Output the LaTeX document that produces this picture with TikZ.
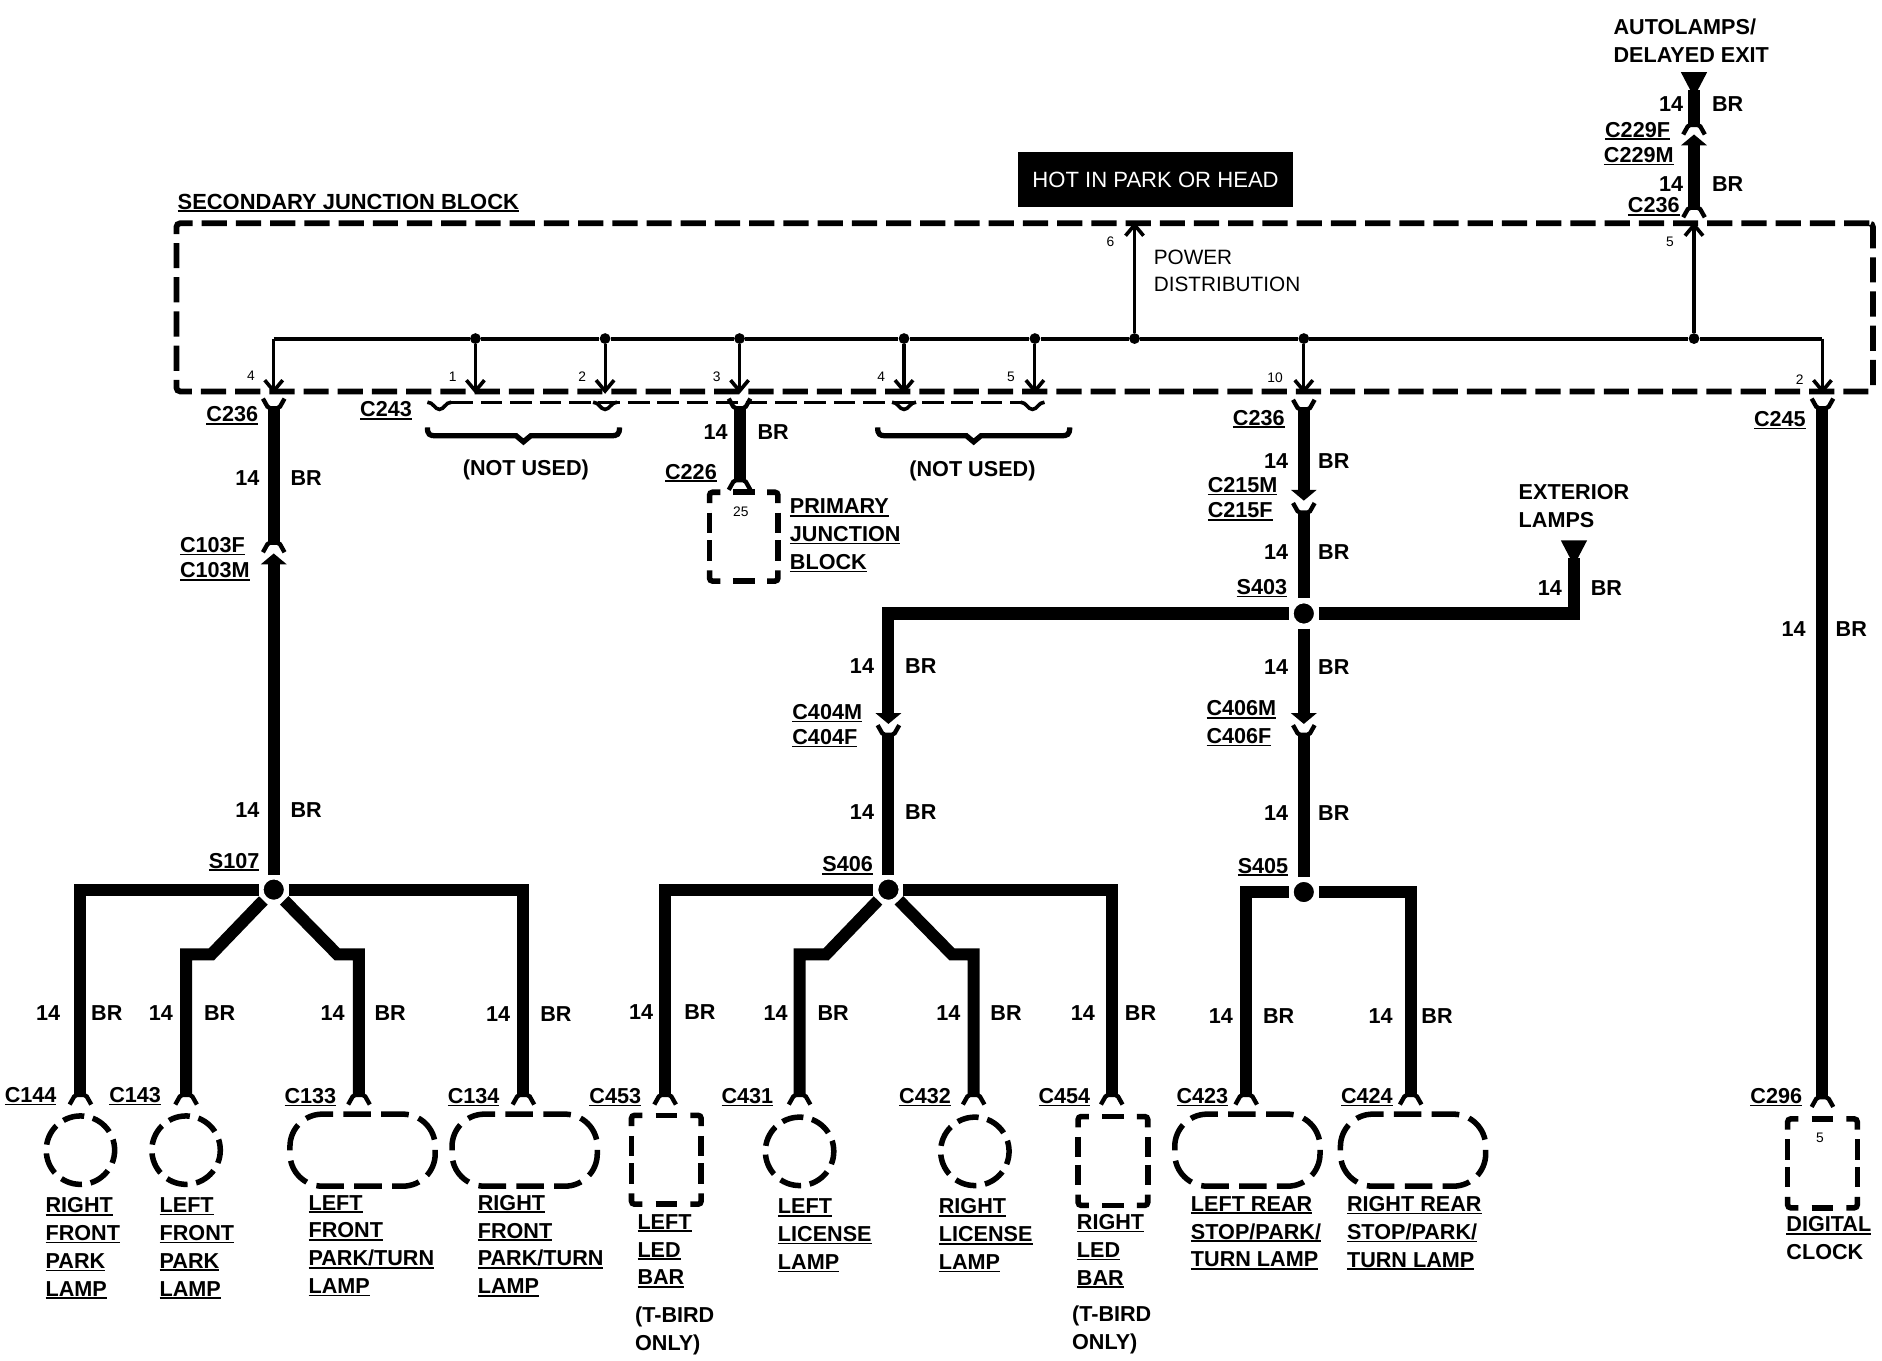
\documentclass[tikz,border=0pt]{standalone}
\usepackage{fontspec}
\setmainfont{Liberation Sans}
\usetikzlibrary{arrows.meta,calc}
\newcounter{lb}
\newsavebox\ulbox
\newcommand\ulab[1]{\sbox\ulbox{#1}\makebox[0pt][l]{\raisebox{-2.4pt}[0pt][0pt]{\rule{\wd\ulbox}{1.4pt}}}\usebox\ulbox}
\newcommand\lbl[4]{\stepcounter{lb}\node[tx,anchor=#1] (lb\arabic{lb}) at (#2,#3) {#4};}
\newcommand\multi[3]{\stepcounter{lb}\node[tx,anchor=north west,align=left] (lb\arabic{lb}) at (#1,{#2-6.5}) {#3};}
\newcommand\gauge[3]{\lbl{center}{#1}{#3}{14}\lbl{center}{#2}{#3}{BR}}
\newcommand\pin[3]{\stepcounter{lb}\node[pintx] (lb\arabic{lb}) at (#1,#2) {#3};}
\newcommand\dbox[5]{%
  \node[inner sep=0pt,minimum width={2*#4},minimum height={2*#5}] (#1) at (#2,#3) {};
  \begin{scope}[shift={(#2,#3)}]
    \draw[shapeline,rounded corners=2.5pt] ({-#4+9},{-#5}) -- ({-#4},{-#5}) -- ({-#4},{-#5+9});
    \draw[shapeline,rounded corners=2.5pt] ({#4-9},{-#5}) -- ({#4},{-#5}) -- ({#4},{-#5+9});
    \draw[shapeline,rounded corners=2.5pt] ({-#4+9},{#5}) -- ({-#4},{#5}) -- ({-#4},{#5-9});
    \draw[shapeline,rounded corners=2.5pt] ({#4-9},{#5}) -- ({#4},{#5}) -- ({#4},{#5-9});
    \draw[shapeline] (-9,{-#5}) -- (9,{-#5});
    \draw[shapeline] (-9,{#5}) -- (9,{#5});
    \draw[shapeline] ({-#4},-20) -- ({-#4},-3);
    \draw[shapeline] ({-#4},3) -- ({-#4},20);
    \draw[shapeline] ({#4},-20) -- ({#4},-3);
    \draw[shapeline] ({#4},3) -- ({#4},20);
  \end{scope}}
\newcommand\doval[3]{%
  \node[inner sep=0pt,minimum width=121pt,minimum height=60pt] (#1) at (#2,#3) {};
  \begin{scope}[shift={(#2,#3)}]
    \draw[shapeline,rounded corners=27pt,dash pattern=on 23pt off 8.56pt,dash phase=11.5pt]
      (0,-30) -- (60.5,-30) -- (60.5,30) -- (-60.5,30) -- (-60.5,-30) -- cycle;
  \end{scope}}
\tikzset{
  tx/.style={inner sep=0pt,outer sep=0pt,font=\bfseries\fontsize{18}{23.2}\selectfont},
  rg/.style={inner sep=0pt,outer sep=0pt,font=\fontsize{17.3}{22.5}\selectfont,align=left},
  pintx/.style={inner sep=0pt,font=\fontsize{11.5}{12}\selectfont},
  wire/.style={line width=10pt,line cap=butt,line join=miter},
  warrow/.style={wire,-{Triangle[length=9pt,width=21pt]}},
  bus/.style={line width=3.4pt},
  drop/.style={line width=2.6pt,-{Straight Barb[length=9pt,width=15pt,line width=3pt]}},
  jct/.style={circle,fill=black,draw=white,line width=4pt,minimum size=21pt,inner sep=0pt},
  tap/.style={circle,fill=black,minimum size=9pt,inner sep=0pt},
  shapeline/.style={line width=4.6pt},
  lampc/.style={circle,draw,line width=4.6pt,minimum size=57pt,inner sep=0pt,dash pattern=on 18pt off 7.3pt,dash phase=9pt},
  forkdn/.pic={\draw[line width=3.6pt,rounded corners=1.5pt] (-9,7) -- (-4.5,-1) -- (4.5,-1) -- (9,7);},
  forkup/.pic={\draw[line width=3.6pt,rounded corners=1.5pt] (-9,-7) -- (-4.5,1) -- (4.5,1) -- (9,-7);},
  cup/.pic={\draw[line width=3pt] (-10,0) .. controls (-5,0) and (-4,6) .. (0,6) .. controls (4,6) and (5,0) .. (10,0);},
  tridn/.pic={\fill (-11,0) -- (11,0) -- (0,21) -- cycle;},
  brace/.pic={\draw[line width=4.4pt] (-80,-7) .. controls (-80,-1) and (-78,0) .. (-73,0) -- (-6,0) -- (0,5) -- (6,0) -- (73,0) .. controls (78,0) and (80,-1) .. (80,-7);}
}
\begin{document}
\begin{tikzpicture}[x=1pt,y=-1pt]
\useasboundingbox (0,0) rectangle (1567.6,1132.8);
\fill[white] (0,0) rectangle (1567.6,1132.8);

% --- Secondary junction block ---
\node[draw,rectangle,line width=4.8pt,rounded corners=3pt,minimum width=1413pt,minimum height=140pt,inner sep=0pt,dash pattern=on 21pt off 7.5pt] (sjb) at (853.5,256) {};
\lbl{west}{148}{168}{\fontsize{18.25}{20}\selectfont\ulab{SECONDARY JUNCTION BLOCK}}
\node[fill=black,text=white,minimum width=229pt,minimum height=45pt,inner sep=0pt,font=\fontsize{18.4}{20}\selectfont] (hot) at (962.5,149.5) {HOT IN PARK OR HEAD};
\stepcounter{lb}\node[rg,anchor=north west] (pdist) at (961,208.5) {POWER\\DISTRIBUTION};

\coordinate (bl) at (228,282);
\coordinate (br) at (1518,282);
\node[tap] (t1) at (396,282) {};
\node[tap] (t2) at (504,282) {};
\node[tap] (t3) at (616,282) {};
\node[tap] (t4) at (753,282) {};
\node[tap] (t5) at (862,282) {};
\node[tap] (t6) at (945,282) {};
\node[tap] (t7) at (1086,282) {};
\node[tap] (t8) at (1411,282) {};
\draw[bus] (bl) -- (t1) -- (t2) -- (t3) -- (t4) -- (t5) -- (t6) -- (t7) -- (t8) -- (br);
\coordinate (pa) at (228,328); \coordinate (pb) at (396,328); \coordinate (pc) at (504,328);
\coordinate (pd) at (616,328); \coordinate (pe) at (753,328); \coordinate (pf) at (862,328);
\coordinate (pg) at (1086,328); \coordinate (ph) at (1518,328);
\coordinate (pu) at (945,185); \coordinate (pv) at (1411,185);
\draw[drop] (bl) -- (pa);
\draw[drop] (t1) -- (pb);
\draw[drop] (t2) -- (pc);
\draw[drop] (t3) -- (pd);
\draw[drop] (t4) -- (pe);
\draw[drop] (t5) -- (pf);
\draw[drop] (t7) -- (pg);
\draw[drop] (br) -- (ph);
\draw[drop] (t6) -- (pu);
\draw[drop] (t8) -- (pv);
\pin{209}{313}{4}\pin{377}{314}{1}\pin{485}{314}{2}\pin{597}{314}{3}\pin{734}{314}{4}\pin{842}{314}{5}
\pin{1062}{315}{10}\pin{1499}{316}{2}\pin{925}{201}{6}\pin{1391}{201}{5}

% --- C243 row ---
\coordinate (r1) at (376,335); \coordinate (r2) at (852,335);
\draw[line width=2.4pt,dash pattern=on 18pt off 6.5pt] (r1) -- (r2);
\pic at (366,335) {cup};
\pic at (504,335) {cup};
\pic at (753,335) {cup};
\pic at (860,335) {cup};
\pic at (436,363) {brace};
\pic at (811,363) {brace};
\lbl{west}{300}{341}{\ulab{C243}}
\lbl{center}{438}{391}{(NOT USED)}
\lbl{center}{810}{392}{(NOT USED)}

% --- junctions ---
\node[jct] (s107) at (228,741) {};
\node[jct] (s406) at (740,741) {};
\node[jct] (s405) at (1086,743) {};
\node[jct] (s403) at (1086,511) {};

% --- left feed ---
\coordinate (c236a) at (228,339); \coordinate (c103f) at (228,453); \coordinate (c103m) at (228,461);
\draw[wire] (c236a) -- (c103f);
\draw[warrow] (s107) -- (c103m);
\pic at (c236a) {forkup};
\pic at (c103f) {forkdn};
\lbl{east}{215}{345}{\ulab{C236}}
\gauge{206}{255}{398}
\lbl{west}{150}{454}{\ulab{C103F}}
\lbl{west}{150}{475}{\ulab{C103M}}
\gauge{206}{255}{675}
\lbl{east}{216}{717}{\ulab{S107}}

% --- S107 branches ---
\coordinate (c144) at (67,913); \coordinate (c143) at (155,913); \coordinate (c133) at (299,913); \coordinate (c134) at (436,913);
\coordinate (a1) at (176,795); \coordinate (a2) at (281,795);
\draw[wire] (s107) -| (c144);
\draw[wire] (s107) -- (a1) -- (c143 |- a1) -- (c143);
\draw[wire] (s107) -- (a2) -- (c133 |- a2) -- (c133);
\draw[wire] (s107) -| (c134);
\pic at (c144) {forkdn}; \pic at (c143) {forkdn}; \pic at (c133) {forkdn}; \pic at (c134) {forkdn};
\gauge{40}{89}{844}\gauge{134}{183}{844}\gauge{277}{325}{844}\gauge{415}{463}{845}
\lbl{west}{4}{912}{\ulab{C144}}\lbl{west}{91}{912}{\ulab{C143}}\lbl{west}{237}{913}{\ulab{C133}}\lbl{west}{373}{913}{\ulab{C134}}
\node[lampc] (l144) at (67,958) {};
\node[lampc] (l143) at (155,958) {};
\doval{l133}{302}{958}
\doval{l134}{437}{958}
\multi{38}{1004}{\ulab{RIGHT}\\\ulab{FRONT}\\\ulab{PARK}\\\ulab{LAMP}}
\multi{133}{1004}{\ulab{LEFT}\\\ulab{FRONT}\\\ulab{PARK}\\\ulab{LAMP}}
\multi{257}{1002}{\ulab{LEFT}\\\ulab{FRONT}\\\ulab{PARK/TURN}\\\ulab{LAMP}}
\multi{398}{1002}{\ulab{RIGHT}\\\ulab{FRONT}\\\ulab{PARK/TURN}\\\ulab{LAMP}}

% --- primary junction block ---
\coordinate (c243w) at (616,339); \coordinate (c226) at (616,401);
\draw[wire] (c243w) -- (c226);
\pic at (c243w) {forkup};
\pic at (c226) {forkdn};
\gauge{596}{644}{360}
\lbl{west}{554}{393}{\ulab{C226}}
\dbox{pjb}{619.5}{447}{28.5}{37}
\pin{617}{426}{25}
\multi{658}{422}{\ulab{PRIMARY}\\\ulab{JUNCTION}\\\ulab{BLOCK}}

% --- centre feed ---
\coordinate (c236b) at (1086,340); \coordinate (c215m) at (1086,417); \coordinate (c215f) at (1086,426);
\draw[warrow] (c236b) -- (c215m);
\draw[wire] (c215f) -- (s403);
\pic at (c236b) {forkup};
\pic at (c215f) {forkup};
\lbl{west}{1027}{348}{\ulab{C236}}
\gauge{1063}{1111}{384}
\lbl{west}{1006}{404}{\ulab{C215M}}
\lbl{west}{1006}{425}{\ulab{C215F}}
\gauge{1063}{1111}{460}
\lbl{west}{1030}{489}{\ulab{S403}}

% --- exterior lamps ---
\coordinate (ext) at (1311,465);
\draw[wire] (s403) -| (ext);
\pic at (1311,450) {tridn};
\multi{1265}{410}{EXTERIOR\\LAMPS}
\gauge{1291}{1338}{490}

% --- to S406 ---
\coordinate (c404m) at (740,603); \coordinate (c404f) at (740,611);
\draw[wire,-{Triangle[length=9pt,width=21pt]}] (s403) -| (c404m);
\draw[wire] (c404f) -- (s406);
\pic at (c404f) {forkup};
\gauge{718}{767}{555}
\lbl{west}{660}{593}{\ulab{C404M}}
\lbl{west}{660}{614}{\ulab{C404F}}
\gauge{718}{767}{676}
\lbl{east}{727}{720}{\ulab{S406}}

% --- to S405 ---
\coordinate (c406m) at (1086,603); \coordinate (c406f) at (1086,611);
\draw[warrow] (s403) -- (c406m);
\draw[wire] (c406f) -- (s405);
\pic at (c406f) {forkup};
\gauge{1063}{1111}{556}
\lbl{west}{1005}{590}{\ulab{C406M}}
\lbl{west}{1005}{613}{\ulab{C406F}}
\gauge{1063}{1111}{677}
\lbl{east}{1073}{721}{\ulab{S405}}

% --- S406 branches ---
\coordinate (c453) at (554,913); \coordinate (c431) at (666,913); \coordinate (c432) at (811,913); \coordinate (c454) at (926,913);
\coordinate (a3) at (688,795); \coordinate (a4) at (793,795);
\draw[wire] (s406) -| (c453);
\draw[wire] (s406) -- (a3) -- (c431 |- a3) -- (c431);
\draw[wire] (s406) -- (a4) -- (c432 |- a4) -- (c432);
\draw[wire] (s406) -| (c454);
\pic at (c453) {forkdn}; \pic at (c431) {forkdn}; \pic at (c432) {forkdn}; \pic at (c454) {forkdn};
\gauge{534}{583}{843}\gauge{646}{694}{844}\gauge{790}{838}{844}\gauge{902}{950}{844}
\lbl{west}{491}{913}{\ulab{C453}}\lbl{west}{601}{913}{\ulab{C431}}\lbl{west}{749}{913}{\ulab{C432}}\lbl{west}{865}{913}{\ulab{C454}}
\dbox{l453}{555}{966}{29}{37}
\node[lampc] (l431) at (666,959) {};
\node[lampc] (l432) at (812,959) {};
\dbox{l454}{927}{967}{29}{37}
\multi{531}{1018}{\ulab{LEFT}\\\ulab{LED}\\\ulab{BAR}}
\multi{529}{1095}{(T-BIRD\\ONLY)}
\multi{648}{1005}{\ulab{LEFT}\\\ulab{LICENSE}\\\ulab{LAMP}}
\multi{782}{1005}{\ulab{RIGHT}\\\ulab{LICENSE}\\\ulab{LAMP}}
\multi{897}{1018}{\ulab{RIGHT}\\\ulab{LED}\\\ulab{BAR}}
\multi{893}{1094}{(T-BIRD\\ONLY)}

% --- S405 branches ---
\coordinate (c423) at (1038,913); \coordinate (c424) at (1175,913);
\draw[wire] (s405) -| (c423);
\draw[wire] (s405) -| (c424);
\pic at (c423) {forkdn}; \pic at (c424) {forkdn};
\gauge{1017}{1065}{846}\gauge{1150}{1197}{846}
\lbl{west}{980}{913}{\ulab{C423}}\lbl{west}{1117}{913}{\ulab{C424}}
\doval{l423}{1039}{958}
\doval{l424}{1177}{958}
\multi{992}{1003}{\ulab{LEFT REAR}\\\ulab{STOP/PARK/}\\\ulab{TURN LAMP}}
\multi{1122}{1003}{\ulab{RIGHT REAR}\\\ulab{STOP/PARK/}\\\ulab{TURN LAMP}}

% --- digital clock ---
\coordinate (c245) at (1518,339); \coordinate (c296) at (1518,915);
\draw[wire] (c245) -- (c296);
\pic at (c245) {forkup};
\pic at (c296) {forkdn};
\lbl{west}{1461}{349}{\ulab{C245}}
\gauge{1494}{1542}{524}
\lbl{west}{1458}{913}{\ulab{C296}}
\dbox{l296}{1518}{969}{29}{37}
\pin{1516}{948}{5}
\multi{1488}{1020}{\ulab{DIGITAL}\\CLOCK}

% --- autolamps feed ---
\coordinate (autot) at (1411,75); \coordinate (c229f) at (1411,105); \coordinate (c229m) at (1411,112); \coordinate (c236t) at (1411,174);
\draw[wire] (autot) -- (c229f);
\draw[warrow] (c236t) -- (c229m);
\pic at (1411,60) {tridn};
\pic at (c229f) {forkdn};
\pic at (c236t) {forkdn};
\multi{1344}{22}{AUTOLAMPS/\\DELAYED EXIT}
\gauge{1392}{1439}{87}
\lbl{east}{1391}{108}{\ulab{C229F}}
\lbl{east}{1394}{129}{\ulab{C229M}}
\gauge{1392}{1439}{153}
\lbl{east}{1399}{171}{\ulab{C236}}
\end{tikzpicture}
\end{document}
